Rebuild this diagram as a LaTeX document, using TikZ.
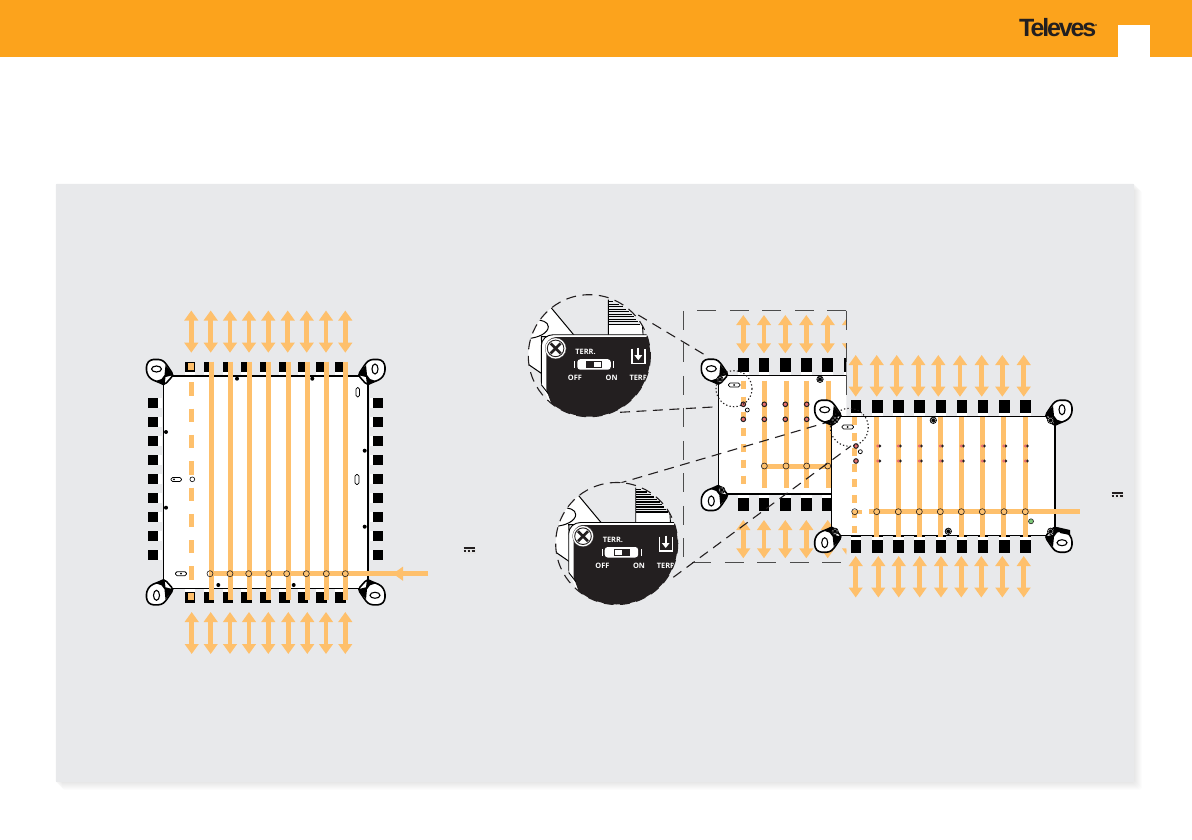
\documentclass[tikz,border=0pt]{standalone}
\usepackage{fontspec}
\usetikzlibrary{arrows.meta}
\newfontfamily\magf{Open Sans}
\newfontfamily\logof[LetterSpace=-8.5]{Liberation Sans}
\definecolor{hdr}{RGB}{252,163,28}
\definecolor{pan}{RGB}{232,233,235}
\definecolor{org}{RGB}{254,192,108}
\definecolor{rdot}{RGB}{232,110,110}
\definecolor{gdot}{RGB}{125,200,120}
\definecolor{ink}{RGB}{35,31,32}
\tikzset{
  dbl/.style={org,line width=4.5pt,{Triangle[length=10pt,width=13.5pt]}-{Triangle[length=10pt,width=13.5pt]}},
  olin/.style={org,line width=5pt},
  body/.style={fill=white,draw=black,line width=1.5pt},
  oc/.style={draw=ink,line width=.6pt,fill=none},
  slotmark/.style={fill=white,draw=black,line width=.8pt,rounded corners=1.6pt},
  link/.style={draw=ink,line width=1.1pt,dash pattern=on 10pt off 6.5pt},
  framel/.style={draw=black!70,line width=.8pt,dash pattern=on 19pt off 13.5pt},
  dotc/.style={draw=ink,line width=1.1pt,dash pattern=on 1.3pt off 2.2pt},
  magtext/.style={text=white,inner sep=0,font=\magf\bfseries\fontsize{7.4}{8}\selectfont}
}
\newcommand\portT[3]{\fill[black](#1-5.3,#2)rectangle(#1+5.3,#3);\fill[white](#1-5.3,#3-4.2)rectangle(#1+5.3,#3-1);}
\newcommand\portB[3]{\fill[black](#1-5.3,#2)rectangle(#1+5.3,#3);\fill[white](#1-5.3,#3+4.2)rectangle(#1+5.3,#3+1);}
\newcommand\portL[1]{\fill[black](148,#1-5)rectangle(162,#1+5);\fill[white](158.3,#1-5)rectangle(162,#1+5);}
\newcommand\portR[1]{\fill[black](369.5,#1-5)rectangle(383,#1+5);\fill[white](369.5,#1-5)rectangle(373,#1+5);}
\newcommand\ear[6]{\begin{scope}[shift={(#1,#2)},xscale=#3,yscale=#4]
 \filldraw[fill=white,draw=black,line width=1.6pt,line join=round,rounded corners=3pt](10,-1)--(2,-13)--(-2,-16.5)--(-13,-16.5)--(-17,-12)--(-17,-3)--(-13,3)--(-3,7)--(1,9)--cycle;
 \fill[black](2,-11)--(10,-1)--(2,1)--(1,9)--(-8,5)--(-2,3)--(1,-1)--cycle;
 \end{scope}
 \begin{scope}[shift={(#1,#2)}]
 \draw[black,line width=1.1pt,fill=white]({-7*#3},{-7*#4})ellipse[x radius=#5,y radius=#6];
 \end{scope}}
\newcommand\screw[2]{\filldraw[fill=white,draw=black,line width=.7pt](#1,#2)circle[radius=3.2];
 \draw[black,line width=.8pt](#1-2.2,#2-2.2)--(#1+2.2,#2+2.2)(#1-2.2,#2+2.2)--(#1+2.2,#2-2.2)(#1-3,#2)--(#1+3,#2)(#1,#2-3)--(#1,#2+3);}
\newcommand\dcsym[2]{\fill[black!10](#1-4,#2-2)rectangle(#1+7,#2+4);
 \draw[ink,line width=1.2pt](#1-5.5,#2-1.6)--(#1+5.5,#2-1.6);
 \draw[ink,line width=1.2pt,dash pattern=on 2.8pt off 1.3pt](#1-5.5,#2+1.4)--(#1+5.5,#2+1.4);}
\newcommand\magnify[4]{\begin{scope}[shift={(#1,#2)}]
 \begin{scope}
 \clip(0,0)circle[radius=61];
 \fill[pan](-62,-62)rectangle(62,62);
 \filldraw[fill=white,draw=black,line width=1pt](-39,-49)--(-14,-19)--(-48,-19)--(-46,19)--(-62,8)--(-70,-20)--(-50,-60)--cycle;
 \draw[black,line width=1pt](-62,-17)..controls(-50,-18)and(-41,-23)..(-41,-29)..controls(-41,-34)and(-48,-36)..(-55,-36);
 \fill[white](19,-32)rectangle(53,-18);
 \draw[black,line width=.9pt](19,-56)--(19,-18)(53,-32)--(54,-18);
 \foreach \yy/\xe in {-54/24,-51.5/30,-49/34,-46.5/37,-44/40,-41.5/43,-39/45,-36.5/47,-34/49,-31.5/51}
   \draw[black,line width=1.2pt](19,\yy)--(\xe,\yy);
 \fill[white](-48,70)--(-48,-10)to[out=90,in=180](-36,-21)--(70,-21)--(70,70)--cycle;
 \draw[black,line width=.9pt](-48,34)--(-48,-10)to[out=90,in=180](-36,-21)--(70,-21);
 \fill[ink](-43,34)--(-43,-8)to[out=90,in=180](-34,-18.5)--(70,-18.5)--(70,70)--(-30,70)--cycle;
 \fill[pan](-49,26)--(-30,70)--(-62,70)--(-62,26)--cycle;
 \draw[black,line width=.9pt](-48,29)--(-41,38);
 \filldraw[fill=white,draw=ink,line width=.2pt](-33.7,-7.3)circle[radius=10.5];
 \filldraw[fill=white,draw=ink,line width=.9pt](-33.7,-7.3)circle[radius=8.3];
 \draw[ink,line width=2.6pt](-38.7,-12.3)--(-28.7,-2.3)(-38.7,-2.3)--(-28.7,-12.3);
 \fill[white,rounded corners=3pt](-12,3.5)rectangle(21.5,14);
 \draw[white,line width=.9pt](-14.7,5.5)--(-14.7,12)(24.3,5.5)--(24.3,12);
 \draw[ink,line width=.7pt](-2.7,6)rectangle(12.3,11.7);
 \ifnum#3=0 \fill[ink](-2.7,6)rectangle(5,11.7);\else\fill[ink](5,6)rectangle(12.3,11.7);\fi
 \node[magtext](#4terr) at(-3.8,-4){TERR.};
 \node[magtext](#4off) at(-14.3,22){OFF};
 \node[magtext](#4on) at(22.3,22){ON};
 \node[magtext,anchor=west](#4t2) at(40,22){TERR};
 \draw[white,line width=1.4pt](42.5,-7)--(42.5,7.5)--(55.5,7.5)--(55.5,-7);
 \draw[white,line width=1.8pt,-{Triangle[length=5pt,width=7.5pt]}](49,-8)--(49,4.5);
 \end{scope}
 \draw[link](0,0)circle[radius=61];
 \end{scope}}
\begin{document}
\begin{tikzpicture}[x=1pt,y=-1pt]
\useasboundingbox(0,0)rectangle(1192,840);
\fill[white](0,0)rectangle(1192,840);
\fill[hdr](0,0)rectangle(1192,57);
\fill[white](1118,25)rectangle(1150,57);
\node[anchor=west,inner sep=0,text=ink,font=\logof\bfseries\fontsize{25}{26}\selectfont](logo) at(1019,27.5){Televes};
\fill[ink](1096,25)circle[radius=.8];
\foreach \d in {1,...,8}\fill[black,opacity=.012,rounded corners=3pt](56-2+\d,184-2+\d)rectangle(1134+\d,782+\d);
\fill[pan](56,184)rectangle(1134,782);
%%%%% device 1
\foreach \x in {190,209,227.8,246.7,265.4,284.3,303,321.7,340.7}{\portT{\x}{361.7}{376}\portB{\x}{603}{588}}
\foreach \y in {403.3,422.3,441.3,460.3,479.3,498.3,517.3,536.3,555.3}{\portL{\y}\portR{\y}}
\fill[org](188,363)rectangle(194,369.5);
\fill[org](188,593)rectangle(194,600);
\filldraw[body](163.5,376)rectangle(368,588.3);
\foreach \x in {211.3,230,249.3,268.3,288.3,307.3,326,345.3}\draw[olin](\x,361.7)--(\x,600);
\draw[org,line width=5pt,dash pattern=on 13.3pt off 13pt](191.7,382.3)--(191.7,581);
\draw[olin](210,573.7)--(400,573.7);
\draw[org,line width=5.5pt,-{Triangle[length=10pt,width=13.5pt]}](428,573.7)--(393,573.7);
\foreach \x in {210,230,248.7,268.7,286.7,306.3,326.3,345.3}\draw[oc](\x,573.7)circle[radius=3];
\foreach \x/\y in {166/378.7,237/378.7,312.3/378.7,365/378.7,166/432,166/507.7,364.7/450.7,364.7/526.7,166/585,218.3/585,293.7/585,365/585}\fill[black](\x,\y)circle[radius=2];
\filldraw[slotmark](356,387.5)rectangle(359.5,397);
\filldraw[slotmark](355,474.5)rectangle(359,484.5);
\filldraw[slotmark](171,477.5)rectangle(181.5,481.5);
\filldraw[slotmark](175.5,571.7)rectangle(186.5,575.7);
\fill[black](174,479.3)circle[radius=1];\fill[black](181,573.7)circle[radius=1];
\draw[oc,fill=white,draw=black](192.3,479.3)circle[radius=2.4];
\ear{163.5}{376}{1}{1}{5}{3}
\ear{368}{376}{-1}{1}{3}{5}
\ear{163.5}{588.3}{1}{-1}{3}{5}
\ear{368}{588.3}{-1}{-1}{5}{3}
\foreach \x in {191.3,210.7,230,249,268.3,287.7,306.7,326,345.3}\draw[dbl](\x,310.5)--(\x,352.7);
\foreach \x in {191.7,210.7,230,249,268.3,288.3,307.3,326,345.3}\draw[dbl](\x,612)--(\x,654);
\dcsym{469}{549.5}
%%%%% device 2
\begin{scope}
\clip(600,300)rectangle(846.3,570);
\foreach \x in {743.3,764,785.3,806.3,827.7,849}{\portT{\x}{358.3}{375.7}\portB{\x}{510.7}{494}}
\filldraw[body](718.3,375.7)rectangle(880,494);
\foreach \x in {764.3,786,806.7,828.3}\draw[olin](\x,380.7)--(\x,488.3);
\draw[org,line width=5pt,dash pattern=on 8pt off 7.8pt](743.3,380.7)--(743.3,488.3);
\draw[olin](764,466)--(832,466);
\foreach \x in {764.3,786,806.7,827.7}\draw[oc](\x,466)circle[radius=3];
\foreach \y in {404.3,419.3}\foreach \x in {743.3,764.3,785.3,806.7}\filldraw[fill=rdot,draw=ink,line width=1pt](\x,\y)circle[radius=2.3];
\foreach \x in {743.3,764,785.3,806.3,827.7,849}{\draw[dbl](\x,315)--(\x,353.3);\draw[dbl](\x,520)--(\x,558.3);}
\screw{820}{379.3}
\end{scope}
\ear{718.3}{375.7}{1}{1}{5}{3}
\ear{718.3}{494}{1}{-1}{3}{5}
\screw{720}{379.3}\screw{721.7}{490}
\filldraw[slotmark](728.5,383)rectangle(740,387);\fill[black](734,385)circle[radius=1];
\filldraw[fill=white,draw=black,line width=.7pt](747.3,410)circle[radius=2];
\draw[dotc](734,388.7)circle[radius=18];
\draw[framel](846,310.7)--(683.7,310.7)--(683.7,562.3)--(846,562.3);
\draw[framel](846,310.7)--(846,402);
\draw[link](616.7,484)--(835,420);
%%%%% device 3
\foreach \x in {856,877.3,898.7,919.7,941,962,983,1004.3,1025.3}{\portT{\x}{400}{416.7}\portB{\x}{552.7}{535.7}}
\filldraw[body](831.7,416.7)rectangle(1055,535.7);
\foreach \x in {876.3,898.3,919.3,940.3,961.3,982.3,1003.7,1025.3}\draw[olin](\x,417.3)--(\x,536.7);
\draw[org,line width=5pt,dash pattern=on 7.8pt off 7.7pt](854.7,417.3)--(854.7,533);
\draw[olin](869.3,511.7)--(1080,511.7);
\draw[org,line width=4pt](851.7,511.7)--(862,511.7);
\foreach \x in {854.7,876.7,898.3,919.3,940.3,961.3,982.3,1004,1025.3}\draw[oc](\x,511.7)circle[radius=3];
\foreach \y in {446,461}\foreach \x in {877.7,898.3,919.3,940.3,961.3,982.3,1003.7,1025.3}{\fill[ink](\x+2,\y)circle[radius=1.6];\fill[rdot](\x,\y)circle[radius=1.6];}
\foreach \y in {446,461}\filldraw[fill=rdot,draw=ink,line width=1pt](856,\y)circle[radius=2.3];
\filldraw[fill=white,draw=black,line width=.7pt](860.3,451.7)circle[radius=2];
\filldraw[fill=gdot,draw=ink,line width=.6pt](1031,521.3)circle[radius=2.5];
\ear{831.7}{416.7}{1}{1}{5}{3}
\ear{1055}{416.7}{-1}{1}{3}{5}
\ear{831.7}{535.7}{1}{-1}{3}{5}
\ear{1055}{535.7}{-1}{-1}{5}{3}
\screw{835}{420}\screw{933.3}{420.3}\screw{1050.7}{420.3}\screw{835}{531.3}\screw{948.3}{531.3}\screw{1050.7}{531.3}
\fill[black](1057,527)--(1070,530)--(1070,535)--(1060,533)--cycle;
\filldraw[slotmark](842,425)rectangle(853.5,429);\fill[black](847.7,427)circle[radius=1];
\draw[dotc](849.3,427.3)circle[radius=19];
\foreach \x in {855.7,876.7,896.7,918.3,938.3,960,981.7,1002.3,1023.7}\draw[dbl](\x,355)--(\x,396.7);
\foreach \x in {855.7,878.3,898.7,919.7,941,961.3,981.3,1002.3,1023.7}\draw[dbl](\x,556)--(\x,597.5);
\dcsym{1117}{494.5}
%%%%% magnifiers and links
\magnify{589.3}{355.7}{0}{ma}
\magnify{616.7}{543.5}{1}{mb}
\draw[link](638.3,315)--(706.7,356);
\draw[link](620,412.3)--(718.3,406.7);
\draw[link](673.3,577.3)--(850,446.7);
\end{tikzpicture}
\end{document}
